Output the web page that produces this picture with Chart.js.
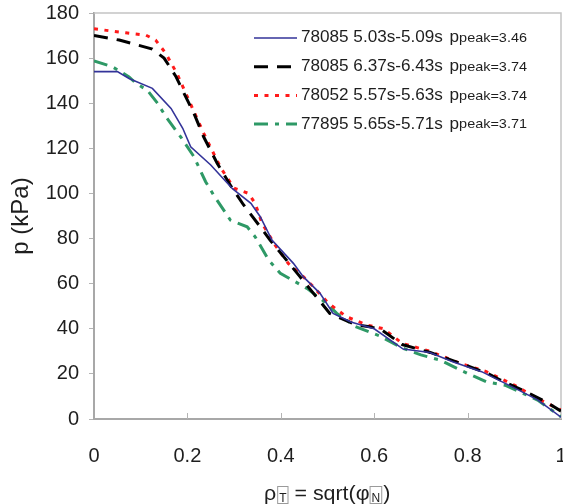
<!DOCTYPE html>
<html lang="en">
<head>
<meta charset="UTF-8">
<title>Pressure profiles</title>
<script src="https://cdn.jsdelivr.net/npm/chart.js"></script>
<style>
  html, body { margin: 0; padding: 0; background: #fff; overflow: hidden; }
</style>
</head>
<body>
<canvas id="chart" width="563" height="504"></canvas>
<script>
  // tick values
  const xTicks = [0, 0.2, 0.4, 0.6, 0.8, 1];
  const yTicks = [0, 20, 40, 60, 80, 100, 120, 140, 160, 180];

  // 78085 5.03s-5.09s
  const rhoA = [0, 0.05, 0.075, 0.125, 0.165, 0.19, 0.207, 0.25, 0.297, 0.336, 0.356, 0.381, 0.427, 0.448, 0.484, 0.512, 0.55, 0.6, 0.662, 0.719, 0.768, 0.83, 0.9, 0.95, 1.0];
  const pA   = [154, 154, 151, 146.6, 137.7, 128.9, 120.7, 112.6, 102, 95.6, 89.7, 79.3, 69, 63.1, 55.7, 46.8, 43, 40, 31, 29.5, 25.4, 21, 13.8, 8.5, 0.8];

  // 78085 6.37s-6.43s
  const rhoB = [0, 0.054, 0.125, 0.15, 0.175, 0.196, 0.214, 0.235, 0.264, 0.294, 0.32, 0.356, 0.377, 0.406, 0.441, 0.47, 0.505, 0.562, 0.59, 0.615, 0.66, 0.72, 0.78, 0.84, 0.87, 0.925, 0.967, 1.0];
  const pB   = [170, 168, 164, 160, 152, 143, 135.5, 125, 113.3, 103, 95, 85.2, 79.3, 72, 63.1, 55.7, 46.8, 41.7, 40.9, 39.7, 33, 29.5, 25, 20.5, 17.3, 12.1, 7.7, 3.5];

  // 78052 5.57s-5.63s
  const rhoC = [0, 0.068, 0.111, 0.132, 0.154, 0.178, 0.203, 0.235, 0.271, 0.3, 0.331, 0.345, 0.36, 0.388, 0.416, 0.448, 0.466, 0.502, 0.541, 0.584, 0.62, 0.66, 0.72, 0.78, 0.84, 0.9, 0.95, 1.0];
  const pC   = [173, 171.2, 170.2, 168, 162, 153, 141.4, 126.6, 111.5, 102.3, 100, 95.6, 86.7, 77.1, 69, 63.1, 59.4, 51.3, 45.3, 41.7, 40, 33.5, 30, 25, 21, 15, 9, 4];

  // 77895 5.65s-5.71s
  const rhoD = [0, 0.04, 0.075, 0.09, 0.114, 0.136, 0.154, 0.175, 0.186, 0.214, 0.239, 0.257, 0.292, 0.328, 0.345, 0.374, 0.399, 0.456, 0.498, 0.52, 0.56, 0.61, 0.66, 0.7, 0.74, 0.8, 0.84, 0.88, 0.95, 1.0];
  const pD   = [158.8, 156.1, 151.7, 148.8, 145.8, 140, 134, 128, 125, 116.3, 105.2, 99, 88.2, 85.2, 80.8, 70.5, 64.6, 57.9, 51.3, 46.8, 41, 37, 31.5, 28.4, 26.2, 20.2, 16.5, 15, 8.4, 1];

  const seriesNames = ['78085 5.03s-5.09s', '78085 6.37s-6.43s', '78052 5.57s-5.63s', '77895 5.65s-5.71s'];
  const peakNames = ['peak=3.46', 'peak=3.74', 'peak=3.74', 'peak=3.71'];

  const FONT = '"Liberation Sans", Arial, sans-serif';
  const TEXT = '#1e1e1e';
  const STRETCH = 1.07;   // reference text looks slightly wide

  function pts(xs, ys) { return xs.map((v, i) => ({ x: v, y: ys[i] })); }

  const styles = [
    { color: '#333399', width: 1.6, dash: [] },
    { color: '#000000', width: 3, dash: [14, 9] },
    { color: '#ff1a1a', width: 3, dash: [4, 6.5] },
    { color: '#2e9966', width: 3, dash: [14, 7, 4, 7] }
  ];
  const series = [pts(rhoA, pA), pts(rhoB, pB), pts(rhoC, pC), pts(rhoD, pD)];

  function stretchText(ctx, txt, x, y) {
    ctx.save();
    ctx.translate(x, y);
    ctx.scale(STRETCH, 1);
    ctx.fillText(txt, 0, 0);
    const w = ctx.measureText(txt).width * STRETCH;
    ctx.restore();
    return w;
  }

  // subscript in a thin box (the reference shows these as boxed glyphs)
  function boxedSub(ctx, ch, x, baseY) {
    ctx.save();
    ctx.font = '12px ' + FONT;
    const w = ctx.measureText(ch).width;
    ctx.strokeStyle = '#9a9a9a';
    ctx.lineWidth = 1;
    ctx.strokeRect(x + 0.5, baseY - 13.5, w + 3, 17);
    ctx.fillText(ch, x + 2, baseY + 2);
    ctx.restore();
    return w + 5;
  }

  const decor = {
    id: 'decor',
    beforeDatasetsDraw(chart) {
      const { ctx, chartArea: a, scales: { x } } = chart;
      ctx.save();
      ctx.strokeStyle = '#c4c4c4';
      ctx.lineWidth = 1.5;
      ctx.beginPath();
      ctx.moveTo(a.left, a.top);
      ctx.lineTo(a.right, a.top);
      ctx.lineTo(a.right, a.bottom);
      ctx.stroke();
      ctx.strokeStyle = '#b4b4b4';
      ctx.lineWidth = 1;
      xTicks.slice(1, -1).forEach(v => {
        const px = Math.round(x.getPixelForValue(v)) + 0.5;
        ctx.beginPath();
        ctx.moveTo(px, a.bottom);
        ctx.lineTo(px, a.bottom - 6);
        ctx.stroke();
      });
      ctx.restore();
    },
    afterDraw(chart) {
      const ctx = chart.ctx;
      ctx.save();
      // legend
      ctx.fillStyle = TEXT;
      ctx.textBaseline = 'middle';
      seriesNames.forEach((name, i) => {
        const y = 38 + i * 28.7;
        const s = styles[i];
        ctx.save();
        ctx.strokeStyle = s.color;
        ctx.lineWidth = s.width;
        ctx.setLineDash(s.dash);
        ctx.beginPath();
        ctx.moveTo(254, y);
        ctx.lineTo(297, y);
        ctx.stroke();
        ctx.restore();
        ctx.font = '16px ' + FONT;
        let xx = 301;
        xx += stretchText(ctx, name + ' ', xx, y);
        xx += 2;
        xx += stretchText(ctx, 'p', xx, y);
        ctx.font = '13.5px ' + FONT;
        stretchText(ctx, peakNames[i], xx, y + 0.5);
      });

      // y title
      ctx.save();
      ctx.translate(28, 216);
      ctx.rotate(-Math.PI / 2);
      ctx.textAlign = 'center';
      ctx.textBaseline = 'alphabetic';
      ctx.font = '24px ' + FONT;
      ctx.fillText('p (kPa)', 0, 0);
      ctx.restore();

      // x title: rho_T = sqrt(phi_N)
      ctx.textBaseline = 'alphabetic';
      ctx.font = '20px ' + FONT;
      const base = 500;
      let xx = 264;
      xx += stretchText(ctx, 'ρ', xx, base);
      xx += boxedSub(ctx, 'T', xx + 1, base);
      ctx.font = '20px ' + FONT;
      xx += stretchText(ctx, ' = sqrt(φ', xx, base);
      xx += boxedSub(ctx, 'N', xx, base);
      ctx.font = '20px ' + FONT;
      stretchText(ctx, ')', xx, base);
      ctx.restore();
    }
  };

  new Chart(document.getElementById('chart'), {
    type: 'line',
    data: {
      datasets: series.map((d, i) => ({
        label: seriesNames[i],
        data: d,
        borderColor: styles[i].color,
        borderWidth: styles[i].width,
        borderDash: styles[i].dash,
        pointRadius: 0,
        tension: 0,
        fill: false
      }))
    },
    options: {
      responsive: false,
      animation: false,
      layout: { padding: { top: 13, right: 2, left: 0, bottom: 0 } },
      plugins: { legend: { display: false }, tooltip: { enabled: false } },
      scales: {
        x: {
          type: 'linear',
          min: 0,
          max: 1,
          afterBuildTicks: s => { s.ticks = xTicks.map(v => ({ value: v })); },
          afterFit: s => { s.height = 85; s.paddingLeft = 0; s.paddingRight = 0; },
          border: { color: '#a8a8a8', width: 2 },
          grid: { display: false },
          ticks: {
            padding: 17,
            color: TEXT,
            font: { family: FONT, size: 20 },
            maxRotation: 0,
            callback: v => String(+v.toFixed(1))
          }
        },
        y: {
          min: 0,
          max: 180,
          afterBuildTicks: s => { s.ticks = yTicks.map(v => ({ value: v })); },
          afterFit: s => { s.width = 94; s.paddingTop = 0; s.paddingBottom = 0; },
          border: { color: '#a8a8a8', width: 2 },
          grid: { drawOnChartArea: false, drawTicks: true, tickLength: 5, color: '#b4b4b4' },
          ticks: {
            padding: 10,
            color: TEXT,
            font: { family: FONT, size: 20 }
          }
        }
      }
    },
    plugins: [decor]
  });
</script>
</body>
</html>
